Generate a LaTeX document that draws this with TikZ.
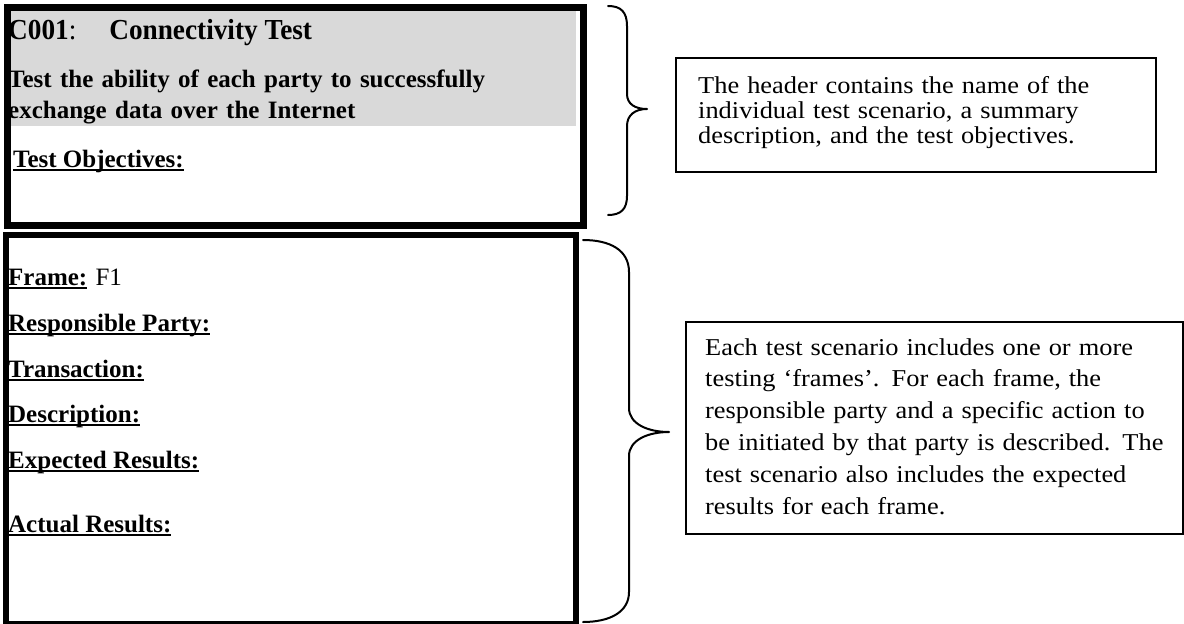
\documentclass[tikz,border=0pt]{standalone}
\usepackage{fontspec}
\setmainfont{Liberation Serif}
\newfontfamily\titlefont{Liberation Serif}[FakeStretch=0.94]
\newfontfamily\notefont{Liberation Serif}[FakeStretch=1.09]
\usetikzlibrary{positioning}

\definecolor{headbg}{HTML}{D9D9D9}

% bold field name with a word-style underline through the descenders
\newcommand{\ulabel}[1]{%
  \setbox0\hbox{\bfseries #1}%
  \rlap{\rule[-3.5pt]{\wd0}{2pt}}\box0%
}

\tikzset{
  panel/.style={draw=black, inner sep=0pt, anchor=north west},
  notebox/.style={draw=black, line width=2pt, inner sep=0pt, anchor=north west},
  fieldtext/.style={anchor=base west, inner sep=0pt, font=\fontsize{25}{30}\selectfont},
  notetext/.style={anchor=base west, inner sep=0pt, align=left},
  brace line/.style={line width=2pt, line join=round, line cap=round}
}

\begin{document}
\begin{tikzpicture}[x=1pt, y=-1pt]
\useasboundingbox (0,0) rectangle (1184,624);

%% ── Header panel ────────────────────────────────────────────────
\fill[headbg] (7,7) rectangle (576,126);
\node[panel, line width=7pt, minimum width=576pt, minimum height=218pt] (header) at (3.5,3.5) {};

\node[fieldtext, font=\titlefont\fontsize{29}{29}\selectfont] (title) at (8,39)
  {\textbf{C001}:\hspace{33pt}\textbf{Connectivity Test}};
\node[fieldtext, font=\bfseries\fontsize{25}{31}\selectfont, text width=560pt, align=left] (summary) at (8,87)
  {Test the ability of each party to successfully\\
   exchange data over the Internet};
\node[fieldtext] (objectives) at (13,167) {\ulabel{Test Objectives:}};

%% ── Frame panel ─────────────────────────────────────────────────
\node[panel, line width=6pt, minimum width=570pt, minimum height=389pt] (frame) at (3,232) {};

\node[fieldtext] (frameno)     at (8,285) {\ulabel{Frame:}\hspace{2pt} F1};
\node[fieldtext] (party)       at (8,331) {\ulabel{Responsible Party:}};
\node[fieldtext] (transaction) at (8,377) {\ulabel{Transaction:}};
\node[fieldtext] (description) at (8,422) {\ulabel{Description:}};
\node[fieldtext] (expected)    at (8,468) {\ulabel{Expected Results:}};
\node[fieldtext] (actual)      at (8,532) {\ulabel{Actual Results:}};

%% ── Braces ──────────────────────────────────────────────────────
\draw[brace line] (608,6) .. controls (621,6) and (627,12) .. (627,26)
  -- (627,94) .. controls (627,104) and (635,109) .. (647,109)
  .. controls (635,109) and (627,115) .. (627,126)
  -- (627,196) .. controls (627,209) and (621,215) .. (608,215);

\draw[brace line] (583,240) .. controls (610,240) and (629,250) .. (629,272)
  -- (629,408) .. controls (629,424) and (648,432) .. (669,432)
  .. controls (648,432) and (629,440) .. (629,456)
  -- (629,592) .. controls (629,612) and (610,622) .. (583,622);

%% ── Notes ───────────────────────────────────────────────────────
\node[notebox, minimum width=480pt, minimum height=114pt] (headnote) at (675,57) {};
\node[notetext, text width=450pt, font=\notefont\fontsize{24.2}{25.3}\selectfont] (headtext) at (698,93)
  {The header contains the name of the\\
   individual test scenario, a summary\\
   description, and the test objectives.};

\node[notebox, minimum width=497pt, minimum height=212pt] (framenote) at (685,321) {};
\node[notetext, text width=470pt, font=\notefont\fontsize{24.2}{31.8}\selectfont] (frametext) at (705,355)
  {Each test scenario includes one or more\\
   testing ‘frames’.  For each frame, the\\
   responsible party and a specific action to\\
   be initiated by that party is described.  The\\
   test scenario also includes the expected\\
   results for each frame.};

\end{tikzpicture}
\end{document}
